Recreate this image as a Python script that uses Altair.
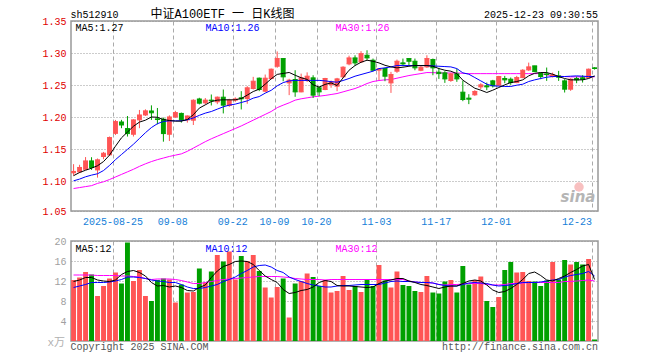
import altair as alt
import pandas as pd

# ---------------- data ----------------
opens = [1.1135, 1.115, 1.119, 1.132, 1.118, 1.1389, 1.1415, 1.175, 1.1927, 1.1824,
         1.1736, 1.196, 1.2036, 1.2098, 1.1975, 1.197, 1.1736, 1.2005, 1.206, 1.196,
         1.1955, 1.2285, 1.2225, 1.2267, 1.2241, 1.2313, 1.2184, 1.2267, 1.2303, 1.2293,
         1.2448, 1.2609, 1.2407, 1.2604, 1.2795, 1.2915, 1.2536, 1.2588, 1.2396, 1.2573,
         1.2614, 1.2459, 1.2433, 1.251, 1.2485, 1.263, 1.2832, 1.2925, 1.2863, 1.2966,
         1.2889, 1.2735, 1.2759, 1.2536, 1.2718, 1.2847, 1.2915, 1.2873, 1.2733, 1.2785,
         1.2899, 1.2702, 1.2692, 1.2573, 1.2676, 1.2391, 1.2298, 1.235, 1.2474, 1.249,
         1.2567, 1.25, 1.2604, 1.2593, 1.2541, 1.2619, 1.2738, 1.2801, 1.2687, 1.2676,
         1.2635, 1.2645, 1.2567, 1.2438, 1.2604, 1.2614, 1.2619, 1.277]
closes = [1.1156, 1.1218, 1.132, 1.1218, 1.1337, 1.144, 1.1684, 1.1933, 1.188, 1.1746,
          1.1959, 1.2036, 1.21, 1.207, 1.1965, 1.1746, 1.2005, 1.2073, 1.1959, 1.202,
          1.2265, 1.222, 1.2267, 1.2257, 1.2313, 1.2189, 1.2267, 1.2285, 1.2288, 1.2459,
          1.2562, 1.2433, 1.2609, 1.2749, 1.2915, 1.263, 1.2578, 1.2396, 1.2614, 1.264,
          1.2345, 1.2396, 1.2604, 1.2552, 1.2598, 1.278, 1.2925, 1.2847, 1.2992, 1.2925,
          1.2733, 1.2755, 1.264, 1.2666, 1.2873, 1.2832, 1.2873, 1.277, 1.278, 1.2915,
          1.277, 1.2681, 1.2598, 1.2676, 1.2598, 1.2277, 1.2282, 1.2402, 1.2505, 1.2474,
          1.249, 1.2635, 1.2583, 1.2541, 1.2619, 1.2733, 1.2785, 1.2712, 1.2635, 1.2666,
          1.2661, 1.2624, 1.2438, 1.2593, 1.2583, 1.2593, 1.2749, 1.276]
highs = [1.127, 1.126, 1.138, 1.1378, 1.1358, 1.146, 1.17, 1.1959, 1.196, 1.202,
         1.197, 1.2114, 1.2124, 1.2186, 1.2145, 1.1995, 1.203, 1.21, 1.2073, 1.203,
         1.228, 1.2304, 1.23, 1.2355, 1.2324, 1.2433, 1.2288, 1.231, 1.2407, 1.2485,
         1.263, 1.262, 1.2666, 1.276, 1.3026, 1.2915, 1.26, 1.2733, 1.268, 1.27,
         1.2655, 1.2485, 1.2614, 1.2573, 1.2614, 1.2795, 1.296, 1.2966, 1.303, 1.3044,
         1.2915, 1.2765, 1.277, 1.2707, 1.2899, 1.2915, 1.292, 1.2915, 1.2806, 1.2966,
         1.2915, 1.277, 1.2718, 1.2692, 1.2754, 1.2573, 1.236, 1.2422, 1.2531, 1.2541,
         1.2583, 1.2645, 1.2645, 1.262, 1.2645, 1.2749, 1.2852, 1.2801, 1.2697, 1.2775,
         1.2697, 1.2723, 1.2593, 1.2609, 1.2635, 1.2655, 1.2759, 1.278]
lows = [1.109, 1.113, 1.1187, 1.118, 1.106, 1.1347, 1.14, 1.1725, 1.183, 1.17,
        1.17, 1.183, 1.202, 1.1959, 1.189, 1.162, 1.163, 1.199, 1.1917, 1.1917,
        1.188, 1.22, 1.22, 1.2184, 1.2205, 1.206, 1.2163, 1.224, 1.2122, 1.221,
        1.2433, 1.2407, 1.239, 1.2588, 1.277, 1.2562, 1.2345, 1.2319, 1.239, 1.255,
        1.23, 1.233, 1.2422, 1.246, 1.2407, 1.2614, 1.281, 1.2806, 1.2847, 1.2889,
        1.2718, 1.258, 1.2562, 1.238, 1.2692, 1.2795, 1.281, 1.2733, 1.2718, 1.277,
        1.2655, 1.2598, 1.2536, 1.2552, 1.2552, 1.2251, 1.2205, 1.2334, 1.2438, 1.2422,
        1.2464, 1.249, 1.2531, 1.2505, 1.2531, 1.2609, 1.2723, 1.2707, 1.2593, 1.2567,
        1.2619, 1.2567, 1.2386, 1.2412, 1.2531, 1.2541, 1.2609, 1.2743]
ma5 = [1.109, 1.114, 1.1175, 1.1207, 1.1245, 1.131, 1.141, 1.155, 1.168, 1.177,
       1.186, 1.1925, 1.1955, 1.2005, 1.2, 1.1965, 1.195, 1.194, 1.194, 1.1965,
       1.204, 1.2143, 1.2194, 1.2245, 1.2267, 1.2272, 1.2272, 1.2272, 1.2292, 1.2345,
       1.2401, 1.2438, 1.2516, 1.26, 1.2668, 1.2683, 1.2698, 1.2655, 1.2616, 1.259,
       1.2507, 1.2469, 1.2512, 1.2536, 1.2495, 1.2614, 1.2733, 1.2806, 1.2857, 1.2889,
       1.2873, 1.2847, 1.281, 1.2785, 1.277, 1.278, 1.2795, 1.2806, 1.2806, 1.2806,
       1.2795, 1.2759, 1.2733, 1.2718, 1.268, 1.2578, 1.2515, 1.2453, 1.2422, 1.2386,
       1.2422, 1.2464, 1.2505, 1.2541, 1.2557, 1.2583, 1.2645, 1.2686, 1.2697, 1.2697,
       1.2671, 1.2635, 1.2604, 1.2583, 1.2583, 1.2583, 1.2604, 1.2645]
ma10 = [1.101, 1.1037, 1.1073, 1.1099, 1.112, 1.117, 1.125, 1.134, 1.142, 1.15,
        1.158, 1.167, 1.176, 1.184, 1.19, 1.1935, 1.1945, 1.1945, 1.1945, 1.196,
        1.199, 1.203, 1.2065, 1.209, 1.2127, 1.2163, 1.219, 1.2205, 1.223, 1.2256,
        1.2298, 1.2323, 1.2376, 1.242, 1.249, 1.254, 1.2567, 1.2575, 1.2575, 1.2575,
        1.2575, 1.2575, 1.2567, 1.2555, 1.2547, 1.2573, 1.2604, 1.264, 1.2666, 1.2692,
        1.2718, 1.2759, 1.277, 1.2785, 1.2806, 1.2806, 1.2806, 1.2806, 1.2806, 1.2806,
        1.28, 1.2795, 1.279, 1.2785, 1.2759, 1.2692, 1.2671, 1.2619, 1.2567, 1.2515,
        1.249, 1.2485, 1.248, 1.248, 1.25, 1.2515, 1.2557, 1.2583, 1.2604, 1.2624,
        1.2635, 1.2635, 1.2635, 1.264, 1.2645, 1.264, 1.2635, 1.2635]
ma30 = [1.089, 1.0905, 1.092, 1.0935, 1.097, 1.0995, 1.103, 1.107, 1.111, 1.115,
        1.119, 1.1235, 1.1275, 1.131, 1.134, 1.1365, 1.139, 1.141, 1.143, 1.147,
        1.152, 1.157, 1.162, 1.1665, 1.1705, 1.1745, 1.1785, 1.1825, 1.1865, 1.191,
        1.1955, 1.2, 1.2045, 1.209, 1.215, 1.2189, 1.2225, 1.2267, 1.2288, 1.2303,
        1.2319, 1.2329, 1.234, 1.2355, 1.237, 1.2396, 1.2422, 1.2448, 1.2484, 1.2526,
        1.2557, 1.2573, 1.2583, 1.2588, 1.2609, 1.263, 1.265, 1.2666, 1.2681, 1.2697,
        1.2695, 1.2692, 1.269, 1.269, 1.269, 1.2685, 1.268, 1.268, 1.268, 1.268,
        1.268, 1.268, 1.268, 1.268, 1.268, 1.268, 1.268, 1.268, 1.268, 1.266,
        1.265, 1.264, 1.2635, 1.263, 1.263, 1.263, 1.263, 1.263]
vols = [12.2, 12.7, 13.8, 13.3, 9.0, 11.0, 12.5, 13.7, 11.5, 19.7,
        12.0, 14.2, 9.0, 8.0, 12.2, 12.5, 12.3, 7.7, 11.3, 9.7,
        9.8, 14.5, 11.7, 13.9, 17.2, 15.9, 17.9, 12.3, 17.0, 16.0,
        17.2, 14.0, 10.7, 8.7, 10.8, 12.5, 4.7, 11.5, 12.0, 13.5,
        12.8, 11.0, 12.2, 9.7, 10.0, 13.0, 10.2, 11.0, 9.8, 12.3,
        11.0, 15.2, 12.1, 10.7, 13.9, 11.2, 11.0, 10.0, 9.8, 13.0,
        9.7, 9.5, 11.9, 12.2, 9.7, 15.0, 11.3, 12.2, 12.9, 8.0,
        6.8, 8.8, 14.2, 15.8, 13.7, 13.8, 12.0, 11.9, 11.0, 12.1,
        15.8, 12.3, 16.2, 15.3, 15.8, 15.3, 16.4, 0.3]
vma5 = [11.9, 12.2, 12.7, 12.7, 12.2, 12.0, 11.9, 12.2, 13.3, 13.9,
        14.1, 13.7, 13.0, 11.7, 11.0, 11.1, 10.8, 11.0, 10.7, 10.1,
        10.0, 10.7, 11.2, 12.7, 14.0, 14.9, 15.3, 15.9, 16.0, 15.9,
        15.3, 14.1, 13.0, 12.3, 11.7, 10.3, 9.5, 9.7, 10.1, 10.3,
        10.8, 11.7, 12.1, 11.9, 11.1, 11.0, 11.0, 10.9, 10.8, 10.7,
        10.8, 11.5, 12.0, 12.2, 12.5, 12.5, 12.0, 11.7, 11.3, 11.1,
        10.8, 10.5, 10.8, 11.0, 11.0, 11.5, 12.0, 12.2, 12.0, 11.2,
        10.2, 9.7, 9.9, 10.5, 11.3, 12.3, 13.5, 13.8, 13.1, 12.2,
        12.0, 12.5, 13.0, 13.7, 14.3, 15.0, 15.3, 12.3]
vma10 = [10.7, 11.0, 11.3, 11.7, 11.7, 11.7, 11.8, 12.0, 12.3, 12.8,
         12.8, 12.7, 12.5, 12.2, 12.0, 11.9, 11.7, 11.7, 11.3, 10.8,
         10.5, 10.5, 10.7, 11.0, 11.3, 11.9, 12.3, 12.8, 13.5, 14.1,
         14.8, 15.1, 15.2, 14.8, 14.1, 13.7, 12.8, 12.3, 11.9, 11.5,
         11.2, 11.0, 10.8, 10.8, 11.0, 11.1, 11.1, 11.2, 11.3, 11.3,
         11.3, 11.3, 11.6, 11.9, 12.0, 11.9, 11.9, 11.8, 11.7, 11.7,
         11.6, 11.3, 11.1, 11.0, 11.0, 11.3, 11.6, 11.7, 11.6, 11.5,
         11.2, 11.0, 11.1, 11.2, 11.5, 11.7, 11.7, 11.7, 11.8, 12.0,
         12.2, 12.3, 12.8, 13.1, 13.3, 13.5, 13.9, 13.0]
vma30 = [13.2, 13.2, 13.2, 13.2, 13.1, 13.1, 13.1, 13.1, 13.0, 13.0,
         12.9, 12.8, 12.5, 12.3, 12.4, 12.4, 12.4, 12.3, 12.1, 11.8,
         11.5, 11.5, 11.7, 11.9, 12.1, 12.3, 12.4, 12.5, 12.6, 12.7,
         12.8, 12.9, 12.9, 12.9, 12.9, 12.8, 12.7, 12.5, 12.4, 12.3,
         12.3, 12.3, 12.2, 12.3, 12.3, 12.3, 12.3, 12.3, 12.3, 12.3,
         12.3, 12.3, 12.3, 12.3, 12.3, 12.3, 12.0, 11.8, 11.7, 11.7,
         11.6, 11.3, 11.2, 11.3, 11.3, 11.4, 11.5, 11.5, 11.5, 11.3,
         11.2, 11.2, 11.3, 11.5, 11.5, 11.6, 11.7, 11.7, 11.7, 11.7,
         11.7, 11.7, 11.9, 11.9, 12.0, 12.1, 12.2, 12.0]

tick_idx = [7, 17, 27, 34, 41, 51, 61, 71, 87]
tick_labels = ["2025-08-25", "09-08", "09-22", "10-09", "10-20",
               "11-03", "11-17", "12-01", "12-23"]
price_ticks = [1.054, 1.10, 1.15, 1.20, 1.25, 1.30, 1.35]
vol_ticks = [4, 8, 12, 16, 20]

code_text = "sh512910"
title_text = "中证A100ETF 一 日K线图"
time_text = "2025-12-23 09:30:55"
price_legend = ["MA5:1.27", "MA10:1.26", "MA30:1.26"]
vol_legend = ["MA5:12", "MA10:12", "MA30:12"]
unit_text = "x万"
copyright_text = "Copyright 2025 SINA.COM"
url_text = "http://finance.sina.com.cn"

# ---------------- styling ----------------
RED = "#ff5555"
GREEN = "#00a000"
MONO = "Liberation Mono"
CJK = "Liberation Mono, Noto Sans CJK SC"
W, H1, H2 = 527, 190, 100

n = len(closes)
df = pd.DataFrame({
    "i": list(range(n)), "open": opens, "close": closes, "high": highs, "low": lows,
    "vol": vols, "ma5": ma5, "ma10": ma10, "ma30": ma30,
    "vma5": vma5, "vma10": vma10, "vma30": vma30,
})
ticks_df = pd.DataFrame({"idx": tick_idx, "lab": tick_labels})

xscale = alt.Scale(domain=[0, n], nice=False, zero=False)
pscale = alt.Scale(domain=[1.054, 1.35], nice=False, zero=False)
vscale = alt.Scale(domain=[0, 20], nice=False, zero=False)
color = alt.Color("dir:N", scale=alt.Scale(domain=["up", "down"], range=[RED, GREEN]), legend=None)

XAX = alt.Axis(values=tick_idx, grid=True, gridDash=[4, 3], gridColor="#aaaaaa",
               labels=False, ticks=False, domain=False, title=None)
PAX = alt.Axis(values=price_ticks, format=".2f", grid=True, gridDash=[1, 2],
               gridColor="#999999", ticks=False, domain=False, title=None,
               labelColor="#e00000", labelFont=MONO, labelFontSize=10, labelPadding=5)
VAX = alt.Axis(values=vol_ticks, grid=True, gridDash=[1, 2], gridColor="#999999",
               ticks=False, domain=False, title=None, labelColor="#a0a0a0",
               labelFont=MONO, labelFontSize=10, labelPadding=5)

base = alt.Chart(df).transform_calculate(
    x0="datum.i + 0.02",
    x1="datum.i + 0.84",
    xc="datum.i + 0.43",
    dir="datum.close >= datum.open ? 'up' : 'down'",
    top="max(datum.open, datum.close)",
    bot="min(datum.open, datum.close)",
)

def X(f):
    return alt.X(f, scale=xscale, axis=XAX)

def txt(s, x, y, col="black", align="left", size=10, font=MONO, **kw):
    return alt.Chart(pd.DataFrame({"t": [s]})).mark_text(
        align=align, baseline="alphabetic", font=font, fontSize=size, color=col, **kw
    ).encode(text="t:N", x=alt.value(x), y=alt.value(y))

# ---------------- price panel ----------------
def PY(f):
    return alt.Y(f, scale=pscale, axis=PAX)

wick = base.mark_rule(strokeWidth=1).encode(x=X("xc:Q"), y=PY("low:Q"), y2="high:Q", color=color)
body = base.mark_bar().encode(x=X("x0:Q"), x2="x1:Q", y=PY("bot:Q"), y2="top:Q", color=color)
flat_o = base.mark_rule(strokeWidth=1).encode(x=X("x0:Q"), x2="x1:Q", y=PY("open:Q"), color=color)
flat_c = base.mark_rule(strokeWidth=1).encode(x=X("x0:Q"), x2="x1:Q", y=PY("close:Q"), color=color)

def ma_line(field, col, yfun):
    return base.mark_line(strokeWidth=1, color=col).encode(x=X("xc:Q"), y=yfun(f"{field}:Q"))

date_lab = alt.Chart(ticks_df).transform_filter(f"datum.idx < {tick_idx[-1]}").mark_text(
    align="center", baseline="alphabetic", font=MONO, fontSize=10, color="#1580d8"
).encode(x=X("idx:Q"), y=alt.value(H1 + 14), text="lab:N")
date_last = alt.Chart(ticks_df).transform_filter(f"datum.idx == {tick_idx[-1]}").mark_text(
    align="right", baseline="alphabetic", font=MONO, fontSize=10, color="#1580d8"
).encode(x=X("idx:Q"), y=alt.value(H1 + 14), text="lab:N")

anchor = alt.Chart(pd.DataFrame({"a": [0]})).mark_rule(strokeWidth=1, opacity=0).encode(
    x=alt.value(-70.2), x2=alt.value(-60), y=alt.value(-19.5)
)
logo_eye = alt.Chart(pd.DataFrame({"a": [0]})).mark_point(
    shape="circle", filled=True, size=90, color="#f6b0b0", opacity=0.8
).encode(x=alt.value(508), y=alt.value(166))
logo = txt("sina", 507, 181, col="#b5b5b5", align="center", size=15,
           font="DejaVu Sans", fontStyle="italic", fontWeight="bold")

top = alt.layer(
    anchor, logo_eye, logo,
    ma_line("ma30", "#ff00ff", PY), wick, body, flat_o, flat_c,
    ma_line("ma10", "#0000ff", PY), ma_line("ma5", "#000000", PY),
    date_lab, date_last,
    txt(code_text, -0.5, -3.5),
    txt(title_text, 79.5, -3.5, size=12, font=CJK),
    txt(time_text, 527, -3.5, align="right"),
    txt(price_legend[0], 4.5, 9.5, col="black"),
    txt(price_legend[1], 134.5, 9.5, col="#0000ff"),
    txt(price_legend[2], 264.5, 9.5, col="#ff00ff"),
).properties(width=W, height=H1)

# ---------------- volume panel ----------------
def VY(f):
    return alt.Y(f, scale=vscale, axis=VAX)

vbar = base.mark_bar().encode(x=X("x0:Q"), x2="x1:Q", y=VY("vol:Q"), y2=alt.datum(0), color=color)

bottom = alt.layer(
    vbar,
    ma_line("vma30", "#ff00ff", VY), ma_line("vma10", "#0000ff", VY),
    ma_line("vma5", "#000000", VY),
    txt(vol_legend[0], 4.5, 10.5, col="black"),
    txt(vol_legend[1], 134.5, 10.5, col="#0000ff"),
    txt(vol_legend[2], 264.5, 10.5, col="#ff00ff"),
    txt(unit_text, -6, 105, col="#b0b0b0", align="right", size=11, font=CJK),
    txt(copyright_text, -0.5, 108.5, col="#555555"),
    txt(url_text, 527, 108.5, col="#555555", align="right"),
).properties(width=W, height=H2)

chart = alt.vconcat(top, bottom, spacing=30, bounds="flush").properties(
    padding={"left": 0, "top": 0, "right": 0, "bottom": 0}, background="white"
).configure_view(stroke="#999999", strokeWidth=1.5)

chart.save("out.html", embed_options={"renderer": "svg", "actions": False})
